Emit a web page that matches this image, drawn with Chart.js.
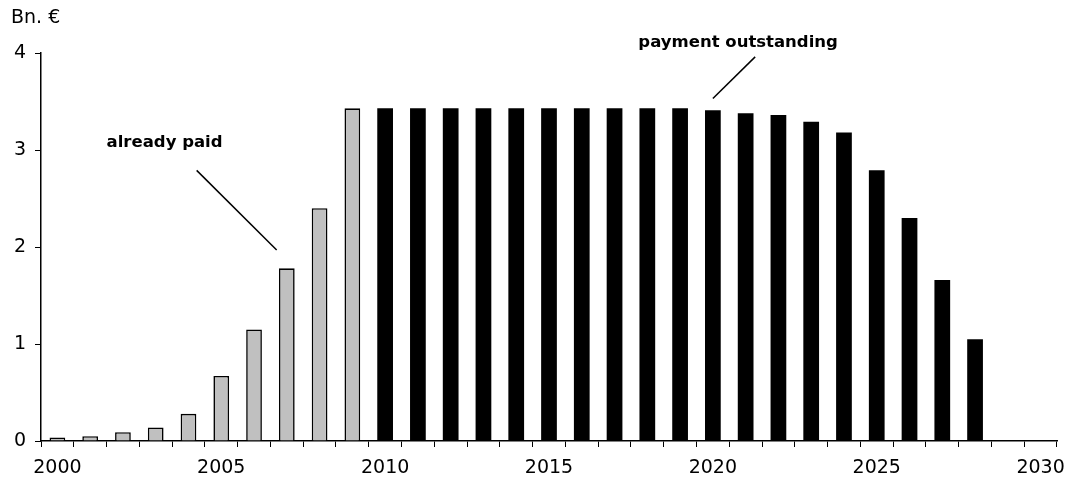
<!DOCTYPE html>
<html><head><meta charset="utf-8">
<script src="https://cdn.jsdelivr.net/npm/chart.js@4"></script>
<style>html,body{margin:0;padding:0;background:#fff}#wrap{width:1072px;height:481px}</style>
</head><body><div id="wrap"><canvas id="c" width="1072" height="481"></canvas></div>
<script>
const years = ['2000','2001','2002','2003','2004','2005','2006','2007','2008','2009','2010','2011','2012','2013','2014','2015','2016','2017','2018','2019','2020','2021','2022','2023','2024','2025','2026','2027','2028','2029','2030'];
const alreadyPaid = [0.035,0.05,0.09,0.14,0.28,0.67,1.15,1.78,2.40,3.43,null,null,null,null,null,null,null,null,null,null,null,null,null,null,null,null,null,null,null,null,null];
const paymentOutstanding = [null,null,null,null,null,null,null,null,null,null,3.43,3.43,3.43,3.43,3.43,3.43,3.43,3.43,3.43,3.43,3.41,3.38,3.36,3.29,3.18,2.79,2.30,1.66,1.05,null,null];
const yTicks = [0,1,2,3,4];
const unitLabel = 'Bn. €';
// annotations in data units: [category index, value]
const notes = [
  {text:'already paid', at:[3.27,3.07], line:[[4.25,2.79],[6.69,1.97]]},
  {text:'payment outstanding', at:[20.77,4.11], line:[[21.29,3.96],[20.0,3.53]]}
];

const font = 'DejaVu Sans';
const annot = {
  id:'annot',
  afterDatasetsDraw(chart){
    const ctx = chart.ctx, xs = chart.scales.x, ys = chart.scales.y;
    const px = i => xs.getPixelForValue(0) + i*(xs.getPixelForValue(1)-xs.getPixelForValue(0));
    ctx.save();
    ctx.fillStyle='#000'; ctx.strokeStyle='#000'; ctx.lineWidth=1.5;
    ctx.font = 'bold 16.5px "'+font+'"';
    ctx.textAlign='center'; ctx.textBaseline='middle';
    notes.forEach(n=>{
      ctx.fillText(n.text, px(n.at[0]), ys.getPixelForValue(n.at[1]));
      ctx.beginPath();
      ctx.moveTo(px(n.line[0][0]), ys.getPixelForValue(n.line[0][1]));
      ctx.lineTo(px(n.line[1][0]), ys.getPixelForValue(n.line[1][1]));
      ctx.stroke();
    });
    ctx.font = '19px "'+font+'"';
    ctx.textAlign='left';
    ctx.fillText(unitLabel, 11, 18);
    ctx.restore();
  }
};

new Chart(document.getElementById('c'), {
  type:'bar',
  data:{labels:years, datasets:[
    {label:'already paid', data:alreadyPaid, backgroundColor:'#c0c0c0', borderColor:'#000', borderWidth:1.6, grouped:false, barPercentage:0.48, categoryPercentage:1},
    {label:'payment outstanding', data:paymentOutstanding, backgroundColor:'#000', borderColor:'#000', borderWidth:0, grouped:false, barPercentage:0.48, categoryPercentage:1}
  ]},
  options:{
    responsive:false, animation:false,
    layout:{padding:{top:53,right:15,left:0,bottom:0}},
    plugins:{legend:{display:false}, tooltip:{enabled:false}},
    scales:{
      x:{
        offset:true,
        grid:{offset:true, drawOnChartArea:false, tickLength:6, color:'#000', tickColor:'#000'},
        border:{color:'#000', width:1.5},
        ticks:{autoSkip:false, maxRotation:0, color:'#000', font:{family:font, size:19}, padding:10,
          callback:(v,i)=> (parseInt(years[i])%5===0 ? years[i] : '')},
        afterFit(s){ s.height = 40; s.paddingRight = 0; s.paddingLeft = 0; }
      },
      y:{
        min:0, max:4,
        afterBuildTicks(s){ s.ticks = yTicks.map(v=>({value:v})); },
        grid:{drawOnChartArea:false, tickLength:6, color:'#000', tickColor:'#000'},
        border:{color:'#000', width:1.5},
        ticks:{color:'#000', font:{family:font, size:19}, padding:9},
        afterFit(s){ s.width = 41; s.paddingTop = 0; s.paddingBottom = 0; }
      }
    }
  },
  plugins:[annot]
});
</script></body></html>
